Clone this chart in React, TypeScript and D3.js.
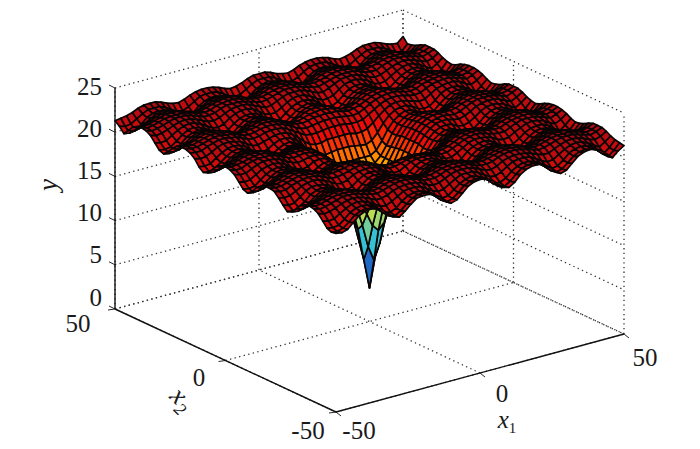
import * as d3 from "d3";
import React, { useEffect, useRef } from "react";

const width = 700;
const height = 449;

const x1Ticks = [-50, 0, 50];
const x2Ticks = [-50, 0, 50];
const yTicks = [0, 5, 10, 15, 20, 25];

// estimated heights, not exact readings: edges, corners, hill spacing and the cone tip were
// measured on the picture, an Ackley-shaped curve was fitted to them by hand and the table
// worked out from that. only one mirrored wedge is typed: row i is |x| = 2*i, column j is
// |x'| = 2*j, j <= i. the mesh is coarser than the original (step 2, original about 1)
const meshStep = 2;
const heightRows = [
  [3.8],
  [7.2, 8.9],
  [10.8, 11.5, 13.0],
  [13.4, 13.7, 14.4, 15.2],
  [15.3, 15.4, 15.7, 16.0, 16.3],
  [16.9, 16.9, 16.9, 16.9, 16.9, 17.3],
  [18.2, 18.2, 18.1, 18.0, 17.9, 18.2, 18.9],
  [19.3, 19.3, 19.3, 19.1, 19.1, 19.3, 19.8, 20.4],
  [20.2, 20.2, 20.1, 20.0, 20.0, 20.1, 20.5, 20.9, 21.3],
  [20.8, 20.8, 20.7, 20.6, 20.5, 20.6, 20.9, 21.3, 21.6, 21.8],
  [21.2, 21.1, 21.1, 20.9, 20.8, 20.9, 21.1, 21.4, 21.7, 21.9, 22.0],
  [21.4, 21.3, 21.2, 21.0, 20.8, 20.8, 21.1, 21.4, 21.7, 21.9, 22.0, 21.9],
  [21.4, 21.4, 21.2, 20.9, 20.5, 20.5, 20.8, 21.2, 21.6, 21.8, 21.8, 21.7, 21.5],
  [21.4, 21.3, 21.0, 20.5, 20.1, 20.0, 20.4, 21.0, 21.4, 21.6, 21.7, 21.5, 21.1, 20.6],
  [21.4, 21.2, 20.9, 20.4, 19.9, 19.7, 20.2, 20.8, 21.3, 21.5, 21.6, 21.4, 20.9, 20.3, 20.0],
  [21.5, 21.4, 21.1, 20.6, 20.1, 20.0, 20.3, 20.9, 21.4, 21.6, 21.6, 21.4, 21.0, 20.5, 20.1, 20.3],
  [21.8, 21.7, 21.4, 21.0, 20.6, 20.6, 20.8, 21.3, 21.7, 21.9, 21.9, 21.7, 21.4, 20.9, 20.7, 20.8, 21.2],
  [22.0, 22.0, 21.8, 21.5, 21.2, 21.1, 21.4, 21.7, 22.0, 22.1, 22.1, 22.0, 21.7, 21.4, 21.2, 21.3, 21.6, 21.9],
  [22.2, 22.2, 22.0, 21.8, 21.6, 21.5, 21.7, 21.9, 22.1, 22.2, 22.2, 22.2, 22.0, 21.7, 21.6, 21.6, 21.9, 22.1, 22.3],
  [22.3, 22.2, 22.1, 21.9, 21.7, 21.7, 21.8, 22.0, 22.2, 22.3, 22.3, 22.2, 22.1, 21.8, 21.7, 21.8, 22.0, 22.2, 22.3, 22.3],
  [22.2, 22.2, 22.1, 21.8, 21.6, 21.6, 21.7, 22.0, 22.2, 22.3, 22.3, 22.2, 22.0, 21.8, 21.6, 21.7, 21.9, 22.1, 22.3, 22.3, 22.3],
  [22.1, 22.1, 21.9, 21.6, 21.3, 21.2, 21.4, 21.8, 22.0, 22.1, 22.1, 22.0, 21.8, 21.5, 21.3, 21.3, 21.6, 21.9, 22.1, 22.2, 22.1, 21.9],
  [21.9, 21.9, 21.6, 21.2, 20.8, 20.7, 21.0, 21.4, 21.8, 21.9, 21.9, 21.8, 21.4, 21.0, 20.7, 20.8, 21.2, 21.6, 21.9, 22.0, 21.9, 21.6, 21.2],
  [21.8, 21.6, 21.3, 20.8, 20.3, 20.2, 20.5, 21.1, 21.5, 21.7, 21.7, 21.5, 21.1, 20.5, 20.2, 20.3, 20.8, 21.4, 21.7, 21.8, 21.7, 21.4, 20.8, 20.3],
  [21.7, 21.6, 21.3, 20.7, 20.2, 20.0, 20.4, 21.0, 21.5, 21.7, 21.7, 21.5, 21.0, 20.4, 20.0, 20.2, 20.7, 21.3, 21.6, 21.7, 21.6, 21.3, 20.7, 20.2, 20.0],
  [21.9, 21.8, 21.5, 20.9, 20.3, 20.1, 20.5, 21.2, 21.6, 21.8, 21.8, 21.7, 21.2, 20.6, 20.1, 20.3, 20.9, 21.5, 21.8, 21.9, 21.8, 21.5, 20.9, 20.3, 20.1, 20.8],
];
// the two far edges (x = +50) sit higher than the near ones, estimated separately
const farEdgeHeights = [22.2, 22.2, 22.0, 21.7, 21.5, 21.4, 21.6, 21.9, 22.1, 22.2, 22.2, 22.1, 21.9, 21.6, 21.4, 21.5, 21.7, 22.0, 22.2, 22.2, 22.2, 22.0, 21.7, 21.5, 21.4, 21.3];
const farInnerHeights = [21.9, 21.9, 21.6, 21.2, 20.8, 20.7, 21.0, 21.4, 21.8, 21.9, 21.9, 21.8, 21.4, 21.0, 20.7, 20.8, 21.2, 21.6, 21.9, 21.9, 21.9, 21.6, 21.2, 20.8, 20.7, 20.9];
const backCornerHeight = 22.0;
const frontCornerHeight = 20.2;

// jet, with the top end taken from the red of the hills
const colorHeights = [3.8, 6, 9.5, 14.8, 17.2, 19.5, 20.5, 22.3];
const colorValues = ["#0a1a78", "#1a50c0", "#30c0d8", "#f8e818", "#ff8000", "#f00c08", "#d00c0c", "#a80c14"];

function heightAt(x1: number, x2: number) {
  if (x1 === 50 && x2 === 50) return backCornerHeight;
  if (x1 === -50 && x2 === -50) return frontCornerHeight;
  if (x1 === 50) return farEdgeHeights[Math.abs(x2) / meshStep];
  if (x2 === 50) return farEdgeHeights[Math.abs(x1) / meshStep];
  if (x1 === 48) return farInnerHeights[Math.abs(x2) / meshStep];
  if (x2 === 48) return farInnerHeights[Math.abs(x1) / meshStep];
  const a = Math.abs(x1) / meshStep;
  const b = Math.abs(x2) / meshStep;
  return heightRows[Math.max(a, b)][Math.min(a, b)];
}

export default function App() {
  const ref = useRef<SVGSVGElement>(null);

  useEffect(() => {
    const svg = d3.select(ref.current);
    svg.selectAll("*").remove();

    // oblique axes: each data axis moves the point along its own screen direction
    const x1ToX = d3.scaleLinear().domain([-50, 50]).range([0, 288]);
    const x1ToY = d3.scaleLinear().domain([-50, 50]).range([0, -78]);
    const x2ToX = d3.scaleLinear().domain([-50, 50]).range([0, -221]);
    const x2ToY = d3.scaleLinear().domain([-50, 50]).range([0, -103]);
    const yToY = d3.scaleLinear().domain([0, 25]).range([0, -221]);
    const originX = 336;
    const originY = 412;

    const px = (a: number, b: number) => originX + x1ToX(a) + x2ToX(b);
    const py = (a: number, b: number, z: number) => originY + x1ToY(a) + x2ToY(b) + yToY(z);

    const line = (a0: number, b0: number, z0: number, a1: number, b1: number, z1: number) =>
      `M${px(a0, b0)},${py(a0, b0, z0)}L${px(a1, b1)},${py(a1, b1, z1)}`;

    const grid = svg.append("g").attr("fill", "none").attr("stroke", "#333").attr("stroke-width", 1.3).attr("stroke-dasharray", "1.3,3.4");
    const gridPaths: string[] = [];
    x1Ticks.forEach((t) => {
      gridPaths.push(line(t, -50, 0, t, 50, 0));
      gridPaths.push(line(t, 50, 0, t, 50, 25));
    });
    x2Ticks.forEach((t) => {
      gridPaths.push(line(-50, t, 0, 50, t, 0));
      gridPaths.push(line(50, t, 0, 50, t, 25));
    });
    yTicks.forEach((t) => {
      gridPaths.push(line(-50, 50, t, 50, 50, t));
      gridPaths.push(line(50, 50, t, 50, -50, t));
    });
    grid.selectAll("path").data(gridPaths).enter().append("path").attr("d", (d) => d);

    const axes = svg.append("g").attr("fill", "none").attr("stroke", "#111").attr("stroke-width", 1.4);
    axes.append("path").attr("d", line(-50, 50, 0, -50, 50, 25));
    axes.append("path").attr("d", line(-50, 50, 0, -50, -50, 0));
    axes.append("path").attr("d", line(-50, -50, 0, 50, -50, 0));
    yTicks.forEach((t) => {
      const x = px(-50, 50);
      const y = py(-50, 50, t);
      axes.append("path").attr("d", `M${x - 6},${y - 3}L${x},${y}`).attr("stroke-width", 0.9);
    });
    x1Ticks.forEach((t) => {
      const x = px(t, -50);
      const y = py(t, -50, 0);
      axes.append("path").attr("d", `M${x},${y}L${x + 5},${y + 4}`).attr("stroke-width", 0.9);
    });
    x2Ticks.forEach((t) => {
      const x = px(-50, t);
      const y = py(-50, t, 0);
      axes.append("path").attr("d", `M${x},${y}L${x - 7},${y + 1}`).attr("stroke-width", 0.9);
    });

    const color = d3.scaleLinear<string>().domain(colorHeights).range(colorValues).clamp(true);

    const coords = d3.range(-50, 50 + meshStep, meshStep);
    const cells: { a: number; b: number; z: number }[] = [];
    coords.slice(0, -1).forEach((a) => {
      coords.slice(0, -1).forEach((b) => {
        const z = d3.mean([
          heightAt(a, b),
          heightAt(a + meshStep, b),
          heightAt(a + meshStep, b + meshStep),
          heightAt(a, b + meshStep),
        ]) as number;
        cells.push({ a, b, z });
      });
    });
    // painter's order, far corner first
    cells.sort((p, q) => q.a + q.b - (p.a + p.b));

    svg
      .append("g")
      .attr("stroke", "#0a0505")
      .attr("stroke-width", 1.7)
      .attr("stroke-linejoin", "round")
      .selectAll("path")
      .data(cells)
      .enter()
      .append("path")
      .attr("fill", (d) => color(d.z))
      .attr("d", (d) => {
        const corners: [number, number][] = [
          [d.a, d.b],
          [d.a + meshStep, d.b],
          [d.a + meshStep, d.b + meshStep],
          [d.a, d.b + meshStep],
        ];
        return "M" + corners.map(([u, v]) => `${px(u, v)},${py(u, v, heightAt(u, v))}`).join("L") + "Z";
      });

    const labels = svg.append("g").attr("font-family", "'Liberation Serif', serif").attr("font-size", 25).attr("fill", "#1a1a1a");
    const yLabelY = d3.scaleLinear().domain([0, 25]).range([297, 86]);
    labels
      .selectAll("text.y")
      .data(yTicks)
      .enter()
      .append("text")
      .attr("x", 102)
      .attr("y", (d) => yLabelY(d))
      .attr("text-anchor", "end")
      .attr("dominant-baseline", "central")
      .text((d) => d);

    const tickText = (s: string, x: number, y: number) =>
      labels.append("text").attr("x", x).attr("y", y).attr("text-anchor", "middle").attr("dominant-baseline", "central").text(s);
    tickText("50", 78, 323);
    tickText("0", 199, 377);
    tickText("-50", 308, 430);
    tickText("-50", 359, 430);
    tickText("0", 502, 393);
    tickText("50", 645, 357);

    const names = svg.append("g").attr("font-family", "'Liberation Serif', serif").attr("fill", "#1a1a1a").attr("font-style", "italic").attr("font-size", 27);
    names.append("text").attr("transform", "translate(57,185) rotate(-90)").attr("text-anchor", "middle").text("y");
    const x2Name = names.append("text").attr("transform", "translate(176,405) rotate(45)").attr("text-anchor", "middle");
    x2Name.append("tspan").text("x");
    x2Name.append("tspan").attr("font-size", 18).attr("dy", 6).text("2");
    const x1Name = names.append("text").attr("x", 507).attr("y", 428).attr("text-anchor", "middle").attr("font-size", 25);
    x1Name.append("tspan").text("x");
    x1Name.append("tspan").attr("font-size", 15).attr("font-style", "normal").attr("dy", 5).text("1");
  }, []);

  return <svg ref={ref} width={width} height={height} style={{ position: "absolute", left: 0, top: 0, background: "#fff" }} />;
}
